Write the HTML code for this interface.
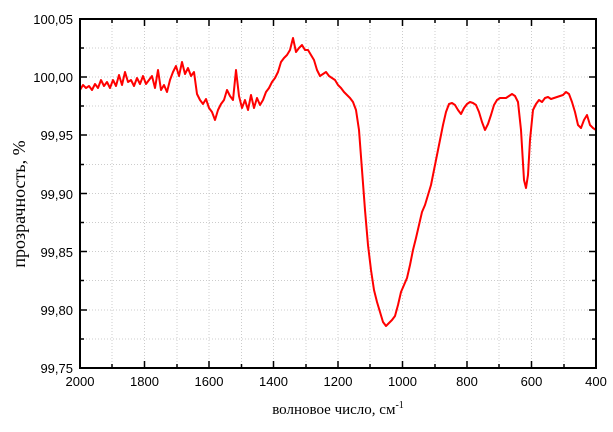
<!DOCTYPE html>
<html><head><meta charset="utf-8"><style>
body{margin:0;background:#fff;}
svg{display:block;}
text{font-family:"Liberation Sans",sans-serif;font-size:13px;fill:#000;}
.s{font-family:"Liberation Serif",serif;font-size:15px;}
</style></head><body>
<svg width="613" height="432" viewBox="0 0 613 432">
<g stroke="#ccc" stroke-width="1" stroke-dasharray="1,2">
<line x1="112" y1="19" x2="112" y2="368"/><line x1="144.5" y1="19" x2="144.5" y2="368"/><line x1="177" y1="19" x2="177" y2="368"/><line x1="209" y1="19" x2="209" y2="368"/><line x1="241.5" y1="19" x2="241.5" y2="368"/><line x1="273.5" y1="19" x2="273.5" y2="368"/><line x1="306" y1="19" x2="306" y2="368"/><line x1="338" y1="19" x2="338" y2="368"/><line x1="370" y1="19" x2="370" y2="368"/><line x1="402.5" y1="19" x2="402.5" y2="368"/><line x1="435" y1="19" x2="435" y2="368"/><line x1="467" y1="19" x2="467" y2="368"/><line x1="499" y1="19" x2="499" y2="368"/><line x1="531.5" y1="19" x2="531.5" y2="368"/><line x1="564" y1="19" x2="564" y2="368"/>
<line x1="80" y1="48" x2="596" y2="48"/><line x1="80" y1="77" x2="596" y2="77"/><line x1="80" y1="106" x2="596" y2="106"/><line x1="80" y1="135" x2="596" y2="135"/><line x1="80" y1="164.5" x2="596" y2="164.5"/><line x1="80" y1="193.5" x2="596" y2="193.5"/><line x1="80" y1="222.5" x2="596" y2="222.5"/><line x1="80" y1="251.5" x2="596" y2="251.5"/><line x1="80" y1="280.5" x2="596" y2="280.5"/><line x1="80" y1="310" x2="596" y2="310"/><line x1="80" y1="339" x2="596" y2="339"/>
</g>
<polyline fill="none" stroke="#f00" stroke-width="2" stroke-linejoin="round" points="80,90 83,85 86,88 89,86 92,90 95,84 98,88 101,80 104,86 107,82 110,88 113,80 116,86 119,75 122,85 125,72 128,82 131,80 134,86 137,78 140,84 143,76 146,84 149,80 152,76 155,88 158,70 161,90 164,85 167,92 170,80 173,72 176,66 179,76 182,62 185,74 188,68 191,76 194,72 197,94 200,100 203,104 206,99 209,108 212,112 215,120 218,110 221,104 224,100 227,90 230,96 233,100 236,70 239,96 242,108 245,100 248,110 251,95 254,108 257,98 260,105 263,100 266,92 269,88 272,82 275,78 278,72 281,62 284,58 287,55 290,50 293,38 296,52 299,48 302,45 305,50 308,50 311,55 314,60 317,70 320,76 323,74 326,72 329,76 332,78 335,80 338,85 341,88 344,92 347,95 350,98 353,102 356,110 359,130 362,170 365,210 368,245 371,270 374,290 377,302 380,312 383,322 386,326 389,323 392,320 395,316 398,305 401,292 404,285 407,278 410,265 413,250 416,238 419,225 422,212 425,205 428,195 431,185 434,170 437,155 440,140 443,125 446,112 449,104 452,103 455,105 458,110 461,114 464,108 467,104 470,102 473,103 476,105 479,112 482,122 485,130 488,124 491,115 494,105 497,100 500,98 503,98 506,98 509,96 512,94 515,96 518,102 521,130 524,180 526,188 528,175 530,140 533,110 536,104 539,100 542,102 545,98 548,97 551,99 554,98 557,97 560,96 563,95 566,92 569,94 572,102 575,112 578,125 581,128 584,120 587,115 590,125 593,128 596,130"/>
<rect x="80" y="19" width="516" height="349" fill="none" stroke="#000" stroke-width="2"/>
<g stroke="#000" stroke-width="1.5">
<path d="M144.5 368v-7M209 368v-7M273.5 368v-7M338 368v-7M402.5 368v-7M467 368v-7M531.5 368v-7M112 368v-4M177 368v-4M241.5 368v-4M306 368v-4M370 368v-4M435 368v-4M499 368v-4M564 368v-4"/>
<path d="M144.5 19v7M209 19v7M273.5 19v7M338 19v7M402.5 19v7M467 19v7M531.5 19v7M112 19v4M177 19v4M241.5 19v4M306 19v4M370 19v4M435 19v4M499 19v4M564 19v4"/>
<path d="M80 77h7M80 135h7M80 193.5h7M80 251.5h7M80 310h7M80 48h4M80 106h4M80 164.5h4M80 222.5h4M80 280.5h4M80 339h4"/>
<path d="M596 77h-7M596 135h-7M596 193.5h-7M596 251.5h-7M596 310h-7M596 48h-4M596 106h-4M596 164.5h-4M596 222.5h-4M596 280.5h-4M596 339h-4"/>
</g>
<g text-anchor="end">
<text x="73" y="24">100,05</text><text x="73" y="82">100,00</text><text x="73" y="140">99,95</text><text x="73" y="199">99,90</text><text x="73" y="257">99,85</text><text x="73" y="315">99,80</text><text x="73" y="373">99,75</text>
</g>
<g text-anchor="middle">
<text x="80" y="386">2000</text><text x="144.5" y="386">1800</text><text x="209" y="386">1600</text><text x="273.5" y="386">1400</text><text x="338" y="386">1200</text><text x="402.5" y="386">1000</text><text x="467" y="386">800</text><text x="531.5" y="386">600</text><text x="596" y="386">400</text>
<text class="s" x="338" y="414">волновое число, см<tspan dy="-6" font-size="10">-1</tspan></text>
<text class="s" style="font-size:18px" transform="translate(25,204) rotate(-90)">прозрачность, %</text>
</g>
</svg>
</body></html>
